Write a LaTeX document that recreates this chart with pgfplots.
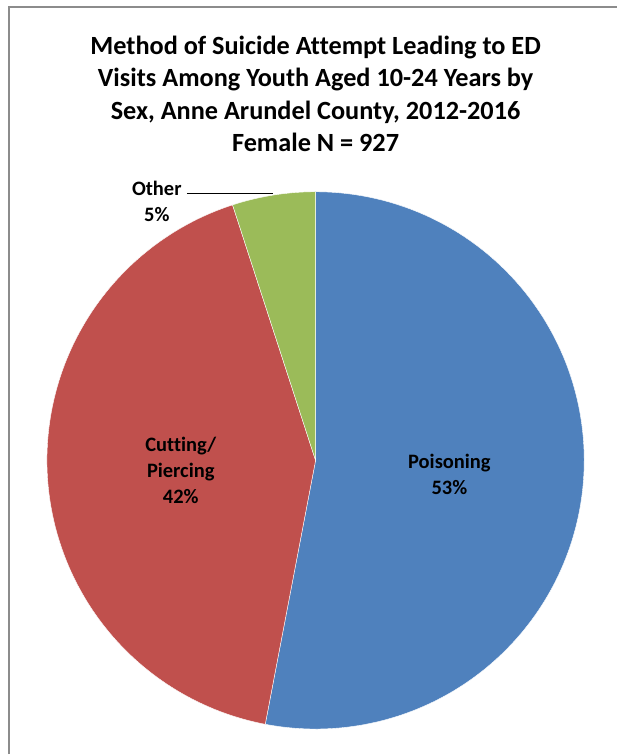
\documentclass[border=0pt]{standalone}
\usepackage{pgfplots}
\pgfplotsset{compat=1.18}
\usepackage{fontspec}
\setmainfont{Carlito}[Ligatures={NoCommon}]
\definecolor{cblue}{HTML}{4F81BD}
\definecolor{cred}{HTML}{C0504D}
\definecolor{cgreen}{HTML}{9BBB59}
\definecolor{cframe}{HTML}{8C8C8C}
% shares (percent)
\def\pPois{53}
\def\pCut{42}
\def\pOther{5}
\begin{document}
\begin{tikzpicture}
\pgfmathsetmacro{\aA}{90}
\pgfmathsetmacro{\aB}{90-3.6*\pPois}
\pgfmathsetmacro{\aC}{\aB-3.6*\pCut}
\pgfmathsetmacro{\aD}{\aC-3.6*\pOther}
\begin{axis}[
  x=1pt, y=1pt, scale only axis,
  xmin=0, xmax=618, ymin=0, ymax=755,
  hide axis, clip=false,
  at={(0,0)}, anchor=origin,
]
\addplot[fill=cblue, draw=white, line width=0.4pt, domain=\aA:\aB, samples=120]
  ({316+269*cos(x)},{294+269*sin(x)}) -- (axis cs:316,294) -- cycle;
\addplot[fill=cred, draw=white, line width=0.4pt, domain=\aB:\aC, samples=120]
  ({316+269*cos(x)},{294+269*sin(x)}) -- (axis cs:316,294) -- cycle;
\addplot[fill=cgreen, draw=white, line width=0.4pt, domain=\aC:\aD, samples=30]
  ({316+269*cos(x)},{294+269*sin(x)}) -- (axis cs:316,294) -- cycle;
\draw[cframe, line width=2pt] (axis cs:9,0) -- (axis cs:9,748) -- (axis cs:618,748);
\node[font=\fontsize{26.3}{32.5}\selectfont\bfseries, align=center] at (axis cs:316,661)
  {Method of Suicide Attempt Leading to ED\\Visits Among Youth Aged 10-24 Years by\\Sex, Anne Arundel County, 2012-2016\\Female N = 927};
\node[font=\fontsize{20.5}{26}\selectfont\bfseries, align=center] at (axis cs:450,280)
  {Poisoning\\\pPois\%};
\node[font=\fontsize{20.5}{26}\selectfont\bfseries, align=center] at (axis cs:181,284)
  {Cutting/\\Piercing\\\pCut\%};
\node[font=\fontsize{20.5}{26}\selectfont\bfseries, align=center] at (axis cs:157,553.5)
  {Other\\\pOther\%};
\draw[black, line width=1.5pt] (axis cs:187,561) -- (axis cs:273,561);
\end{axis}
\useasboundingbox (0,0) rectangle (618pt,755pt);
\end{tikzpicture}
\end{document}
